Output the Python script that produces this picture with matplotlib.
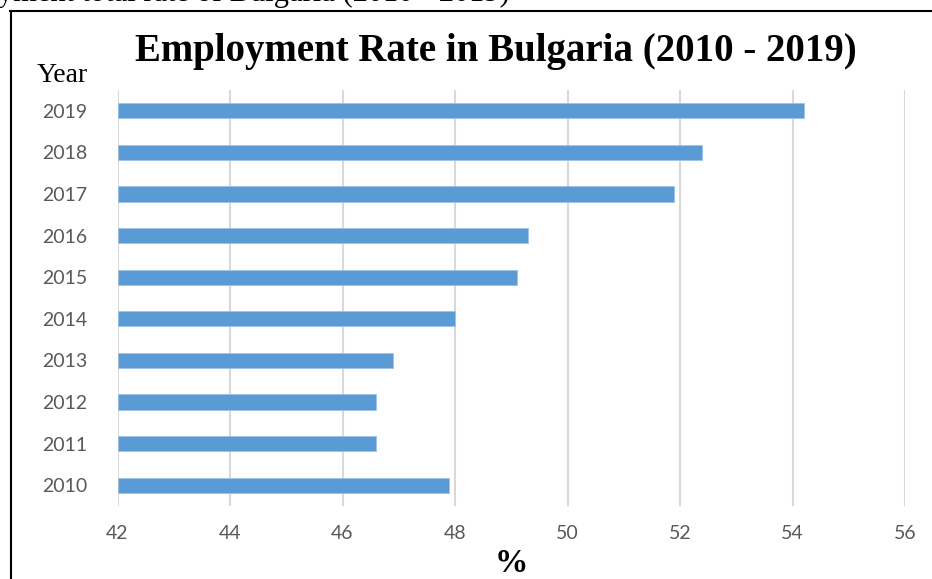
import matplotlib
matplotlib.use("Agg")
import matplotlib.pyplot as plt
from matplotlib.lines import Line2D

years = ["2010", "2011", "2012", "2013", "2014", "2015", "2016", "2017", "2018", "2019"]
rates = [47.9, 46.6, 46.6, 46.9, 48.0, 49.1, 49.3, 51.9, 52.4, 54.2]
x_ticks = [42, 44, 46, 48, 50, 52, 54, 56]

title = "Employment Rate in Bulgaria (2010 - 2019)"
caption = "Figure 1. Employment total rate of Bulgaria (2010 - 2019)"

W, H = 932, 579
fig = plt.figure(figsize=(W / 100, H / 100), dpi=100)
fig.patch.set_facecolor("white")

def fx(px):
    return px / W

def fy(py):
    return 1 - py / H

ax = fig.add_axes([fx(117.5), fy(506), fx(905) - fx(117.5), fy(90) - fy(506)])
ypos = list(range(len(years)))
ax.barh(ypos, [r - 42 for r in rates], left=42, height=0.37, color="#5B9BD5",
        edgecolor="#9DC3E6", linewidth=0.6, zorder=3)
ax.set_xlim(42, 56)
ax.set_ylim(-0.5, len(years) - 0.5)
ax.set_xticks(x_ticks)
ax.set_xticklabels([str(t) for t in x_ticks])
ax.set_yticks(ypos)
ax.set_yticklabels(years)
ax.grid(axis="x", color="#D9D9D9", linewidth=1.5, zorder=0)
ax.grid(axis="y", visible=False)
for s in ax.spines.values():
    s.set_visible(False)
ax.tick_params(axis="both", length=0, labelcolor="#595959", labelsize=14)
ax.tick_params(axis="y", pad=22)
ax.tick_params(axis="x", pad=14)
for lab in ax.get_xticklabels() + ax.get_yticklabels():
    lab.set_family(["Lato", "DejaVu Sans"])

fig.text(fx(496), fy(61), title, ha="center", va="baseline",
         family="Liberation Serif", fontweight="bold", fontsize=28)
fig.text(fx(62), fy(82), "Year", ha="center", va="baseline",
         family="Liberation Serif", fontsize=20)
fig.text(fx(511), fy(572), "%", ha="center", va="baseline",
         family="Liberation Serif", fontweight="bold", fontsize=24)
fig.text(fx(510), fy(1.5), caption, ha="right", va="baseline",
         family="Liberation Serif", fontsize=22)

fig.add_artist(Line2D([fx(10.5), fx(10.5)], [fy(11), 0], color="black", linewidth=1.5,
                      transform=fig.transFigure))
fig.add_artist(Line2D([fx(10), 1], [fy(11), fy(11)], color="black", linewidth=1.5,
                      transform=fig.transFigure))

fig.savefig("out.png", dpi=100)
